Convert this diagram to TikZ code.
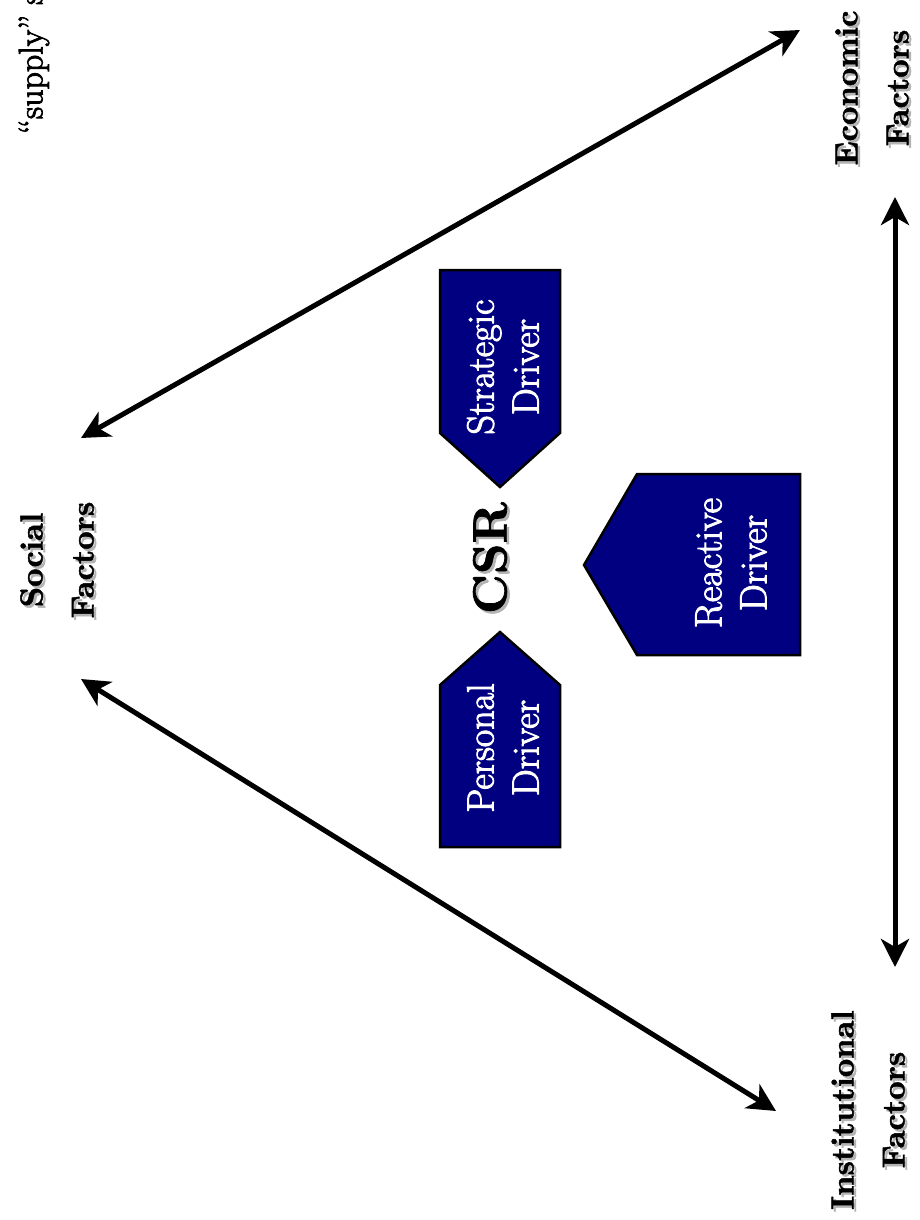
\documentclass[tikz,border=0pt]{standalone}
\usepackage{fontspec}
\newfontfamily\drvfont{Latin Modern Roman}[FakeBold=2.6]
\newfontfamily\lblfont{lmroman10-bold.otf}[FakeBold=1.4]
\usetikzlibrary{arrows.meta}
\definecolor{navyfill}{HTML}{000080}
\definecolor{shadowgray}{HTML}{B4B4B4}
\tikzset{
  conn/.style={line width=5pt,{Stealth[length=28pt,width=28pt,inset=8pt]}-{Stealth[length=28pt,width=28pt,inset=8pt]}},
  driverbox/.style={draw=black,line width=2.5pt,fill=navyfill,line join=miter},
  factortext/.style={rotate=90,align=center,font=\lblfont\fontsize{32}{51}\selectfont,inner sep=0pt},
  drivertext/.style={rotate=90,align=center,text=white,font=\drvfont\fontsize{38}{45}\selectfont,inner sep=0pt},
  csrtext/.style={rotate=90,font=\lblfont\fontsize{48}{55}\selectfont,inner sep=0pt},
  shadowed/.style={text=shadowgray}
}
\begin{document}
\begin{tikzpicture}[x=1pt,y=-1pt]
\useasboundingbox (0,0) rectangle (919,1220);
\clip (0,0) rectangle (919,1220);
\fill[white] (0,0) rectangle (919,1220);

% partial caption text at top-left
\node[rotate=90,anchor=west,font=\drvfont\fontsize{34}{38}\selectfont,inner sep=0pt] (supply) at (34,134) {“supply” s};

% connector end points
\coordinate (socialtop) at (81,438);
\coordinate (econtip) at (800,30);
\coordinate (socialbot) at (81,679);
\coordinate (insttip) at (776,1111);
\coordinate (econbot) at (895,197);
\coordinate (insttop) at (895,967);

\draw[conn] (socialtop) -- (econtip);
\draw[conn] (socialbot) -- (insttip);
\draw[conn] (econbot) -- (insttop);

% driver shapes
\draw[driverbox] (440,270) -- (560,270) -- (560,433) -- (500,487) -- (440,433) -- cycle;
\draw[driverbox] (440,847) -- (560,847) -- (560,685) -- (500,632) -- (440,685) -- cycle;
\draw[driverbox] (800,474) -- (800,655) -- (637,655) -- (584,565) -- (637,474) -- cycle;

\node[drivertext] (strategic) at (503,367) {Strategic\\Driver};
\node[drivertext] (reactive) at (731,563) {Reactive\\Driver};
\node[drivertext] (personal) at (503,748) {Personal\\Driver};

% CSR with shadow
\node[csrtext,shadowed] (csrshadow) at (492.5,560.5) {CSR};
\node[csrtext] (csr) at (490,558) {CSR};

% factor labels with shadow
\node[factortext,shadowed] (socialshadow) at (59.5,562.5) {Social\\Factors};
\node[factortext] (social) at (57,560) {Social\\Factors};
\node[factortext,shadowed] (econshadow) at (874.5,90.5) {Economic\\Factors};
\node[factortext] (econ) at (872,88) {Economic\\Factors};
\node[factortext,shadowed] (instshadow) at (870.5,1112.5) {Institutional\\Factors};
\node[factortext] (inst) at (868,1110) {Institutional\\Factors};
\end{tikzpicture}
\end{document}
